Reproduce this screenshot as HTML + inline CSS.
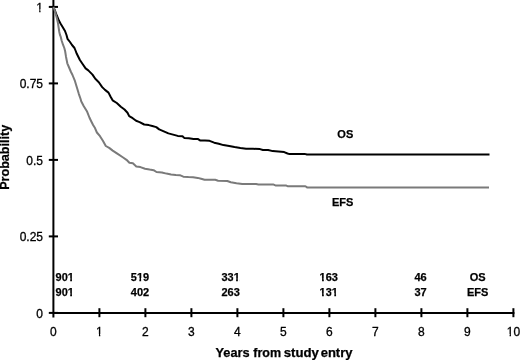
<!DOCTYPE html>
<html><head><meta charset="utf-8"><style>
html,body{margin:0;padding:0;background:#fff;}
svg{display:block;}
text{font-family:"Liberation Sans",Arial,sans-serif;}
</style></head><body>
<svg width="520" height="360" viewBox="0 0 520 360">
<rect width="520" height="360" fill="#fff"/>
<g stroke="#000" stroke-width="2" fill="none">
<line x1="53.4" y1="0" x2="53.4" y2="317.4"/>
<line x1="53.4" y1="313.0" x2="514.4" y2="313.0"/>
<line x1="99.4" y1="308.2" x2="99.4" y2="317.2"/>
<line x1="145.4" y1="308.2" x2="145.4" y2="317.2"/>
<line x1="191.4" y1="308.2" x2="191.4" y2="317.2"/>
<line x1="237.4" y1="308.2" x2="237.4" y2="317.2"/>
<line x1="283.4" y1="308.2" x2="283.4" y2="317.2"/>
<line x1="329.4" y1="308.2" x2="329.4" y2="317.2"/>
<line x1="375.4" y1="308.2" x2="375.4" y2="317.2"/>
<line x1="421.4" y1="308.2" x2="421.4" y2="317.2"/>
<line x1="467.4" y1="308.2" x2="467.4" y2="317.2"/>
<line x1="513.4" y1="308.2" x2="513.4" y2="317.2"/>
<line x1="48.8" y1="312.9" x2="58.0" y2="312.9"/>
<line x1="48.8" y1="236.4" x2="58.0" y2="236.4"/>
<line x1="48.8" y1="159.9" x2="58.0" y2="159.9"/>
<line x1="48.8" y1="83.4" x2="58.0" y2="83.4"/>
<line x1="48.8" y1="6.9" x2="58.0" y2="6.9"/>
</g>
<g font-size="12" fill="#000" stroke="#000" stroke-width="0.3">
<text x="43" y="317.7" text-anchor="end">0</text>
<text x="43" y="241.2" text-anchor="end">0.25</text>
<text x="43" y="164.7" text-anchor="end">0.5</text>
<text x="43" y="88.2" text-anchor="end">0.75</text>
<text x="43" y="11.7" text-anchor="end">1</text>
<text x="53.4" y="336.2" text-anchor="middle">0</text>
<text x="99.4" y="336.2" text-anchor="middle">1</text>
<text x="145.4" y="336.2" text-anchor="middle">2</text>
<text x="191.4" y="336.2" text-anchor="middle">3</text>
<text x="237.4" y="336.2" text-anchor="middle">4</text>
<text x="283.4" y="336.2" text-anchor="middle">5</text>
<text x="329.4" y="336.2" text-anchor="middle">6</text>
<text x="375.4" y="336.2" text-anchor="middle">7</text>
<text x="421.4" y="336.2" text-anchor="middle">8</text>
<text x="467.4" y="336.2" text-anchor="middle">9</text>
<text x="513.4" y="336.2" text-anchor="middle">10</text>
</g>
<polyline points="53.4,6.9 55.3,11.5 56.8,15.5 57.5,17.2 59.0,20.8 60.5,23.5 62.0,26.0 65.0,31.0 66.5,35.0 67.5,38.8 70.0,42.0 72.0,45.0 74.5,48.0 75.5,50.5 76.8,53.8 79.9,60.0 82.6,64.0 85.6,68.4 88.3,70.4 92.5,74.6 95.3,78.8 98.8,82.2 102.2,87.1 105.0,89.9 108.5,92.6 110.6,96.8 112.6,100.3 116.8,103.0 120.8,106.7 124.5,109.5 127.5,112.7 129.2,116.1 132.7,118.2 136.1,120.8 139.6,122.1 144.2,124.5 148.8,125.1 152.3,126.0 156.3,127.1 159.2,129.4 163.8,131.3 168.4,133.4 173.1,134.6 177.7,135.9 182.5,136.2 184.2,137.9 188.8,138.3 193.5,139.1 198.1,139.1 200.4,140.6 205.0,140.6 209.6,140.8 214.2,142.7 218.8,143.8 223.4,145.1 229.2,146.0 234.5,147.1 240.4,148.0 246.1,148.7 253.1,148.8 260.0,149.1 262.9,150.0 268.1,150.0 272.7,151.1 278.4,151.4 284.2,152.1 287.5,153.5 289.6,154.1 304.6,153.9 306.9,154.5 489.5,154.5" fill="none" stroke="#000" stroke-width="2" stroke-linejoin="round"/>
<polyline points="53.4,6.9 54.6,10.0 55.7,14.0 57.0,18.7 58.0,23.3 58.7,28.0 59.3,32.0 60.0,35.0 60.7,36.7 61.7,40.7 63.0,44.7 64.3,48.0 65.1,51.0 66.0,56.7 67.3,63.3 69.3,68.0 71.0,72.0 72.5,75.0 75.0,81.2 76.9,87.5 78.8,93.8 80.6,99.0 81.2,101.2 83.8,106.2 86.9,111.2 89.4,117.5 91.2,121.2 93.1,125.0 95.0,128.1 96.9,132.5 100.0,136.2 102.9,140.8 105.8,146.0 109.2,147.9 112.7,150.6 117.3,153.7 123.1,157.5 126.5,159.8 129.4,162.7 132.9,163.3 136.3,166.4 140.4,167.1 145.0,168.7 149.6,169.6 153.6,170.2 156.5,172.0 161.9,172.5 166.5,173.6 171.1,174.4 175.8,175.0 179.8,175.2 183.3,176.7 188.4,177.1 193.1,177.3 197.7,177.9 201.1,178.8 204.6,179.8 215.2,179.8 218.1,180.7 227.3,181.0 230.8,182.3 236.5,183.2 242.3,183.9 256.1,183.9 258.4,184.4 273.1,184.4 275.4,185.4 285.8,185.4 287.5,186.2 305.4,186.2 307.1,187.4 489.0,187.4" fill="none" stroke="#7a7a7a" stroke-width="2" stroke-linejoin="round"/>
<g font-size="11" font-weight="bold" fill="#000" stroke="#000" stroke-width="0.25">
<text x="215.5" y="356.6" font-size="12" textLength="34.1" lengthAdjust="spacingAndGlyphs">Years</text>
<text x="253.3" y="356.6" font-size="12" textLength="27.8" lengthAdjust="spacingAndGlyphs">from</text>
<text x="283.7" y="356.6" font-size="12" textLength="35.1" lengthAdjust="spacingAndGlyphs">study</text>
<text x="320.7" y="356.6" font-size="12" textLength="31.8" lengthAdjust="spacingAndGlyphs">entry</text>
<text transform="translate(9.0,157.3) rotate(-90)" text-anchor="middle" font-size="12" textLength="65" lengthAdjust="spacingAndGlyphs">Probability</text>
<text x="64.7" y="281.1" text-anchor="middle">901</text>
<text x="64.7" y="295.5" text-anchor="middle">901</text>
<text x="140" y="281.1" text-anchor="middle">519</text>
<text x="140" y="295.5" text-anchor="middle">402</text>
<text x="230.6" y="281.1" text-anchor="middle">331</text>
<text x="230.6" y="295.5" text-anchor="middle">263</text>
<text x="328.8" y="281.1" text-anchor="middle">163</text>
<text x="328.8" y="295.5" text-anchor="middle">131</text>
<text x="420.6" y="281.1" text-anchor="middle">46</text>
<text x="420.6" y="295.5" text-anchor="middle">37</text>
<text x="477.6" y="281.1" text-anchor="middle">OS</text>
<text x="477.6" y="295.5" text-anchor="middle">EFS</text>
<text x="345.3" y="137.8" text-anchor="middle">OS</text>
<text x="342.7" y="205.6" text-anchor="middle">EFS</text>
</g>
<g fill="#fff">
<rect x="35.93" y="9" width="3.25" height="4"/>
<rect x="40.54" y="9" width="2.86" height="4"/>
<rect x="95.67" y="334" width="3.25" height="4"/>
<rect x="100.28" y="334" width="2.86" height="4"/>
<rect x="506.33" y="334" width="3.25" height="4"/>
<rect x="510.95" y="334" width="2.86" height="4"/>
<rect x="67.55" y="278" width="2.65" height="5"/>
<rect x="71.96" y="278" width="2.01" height="5"/>
<rect x="67.55" y="293" width="2.65" height="4"/>
<rect x="71.96" y="293" width="2.01" height="4"/>
<rect x="136.72" y="278" width="2.65" height="5"/>
<rect x="141.13" y="278" width="2.01" height="5"/>
<rect x="233.45" y="278" width="2.65" height="5"/>
<rect x="237.86" y="278" width="2.01" height="5"/>
<rect x="319.41" y="278" width="2.65" height="5"/>
<rect x="323.82" y="278" width="2.01" height="5"/>
<rect x="319.41" y="293" width="2.65" height="4"/>
<rect x="323.82" y="293" width="2.01" height="4"/>
<rect x="331.65" y="293" width="2.65" height="4"/>
<rect x="336.06" y="293" width="2.01" height="4"/>
</g>
</svg>
</body></html>
